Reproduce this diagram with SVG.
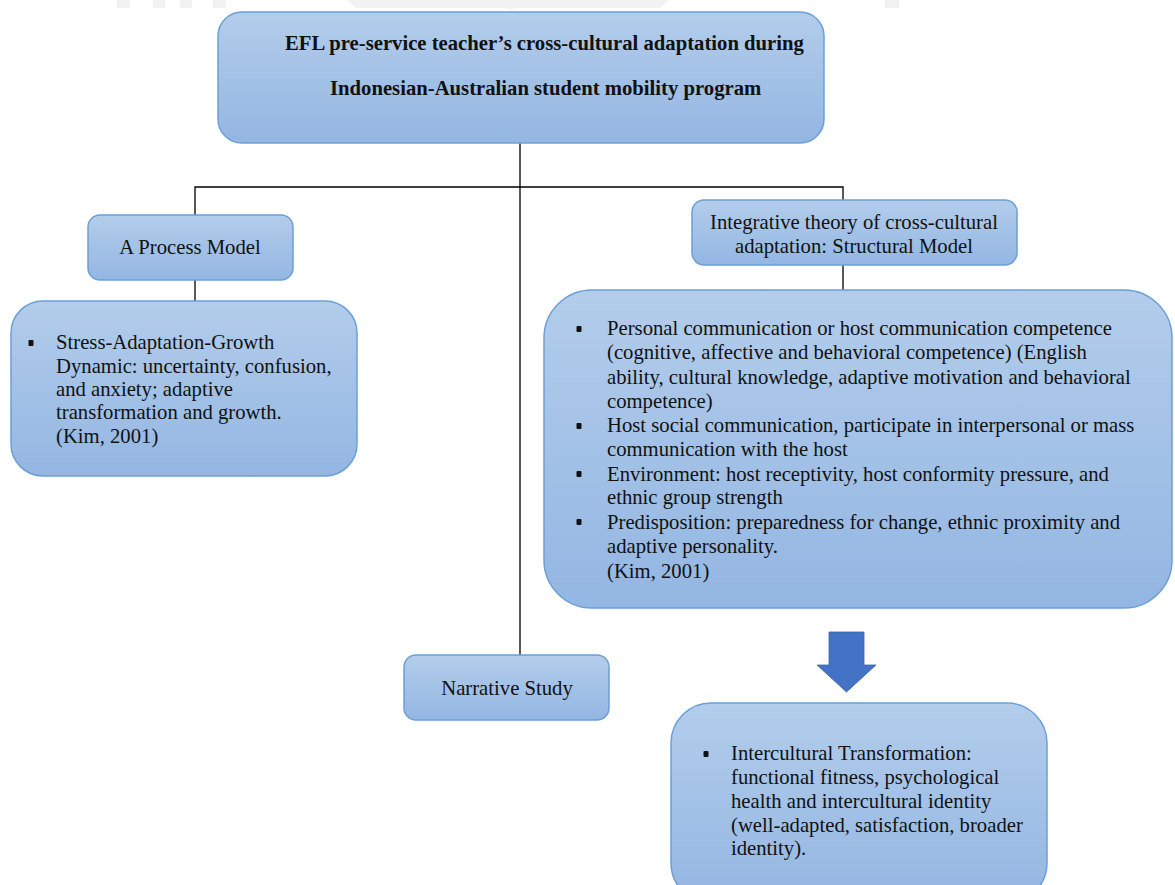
<svg xmlns="http://www.w3.org/2000/svg" width="1175" height="885" viewBox="0 0 1175 885">
  <defs>
    <linearGradient id="boxFill" x1="0" y1="0" x2="0" y2="1">
      <stop offset="0" stop-color="#b3cdeb"/>
      <stop offset="1" stop-color="#93b6e2"/>
    </linearGradient>
    <style>
      .box { fill: url(#boxFill); stroke: #6c9fd7; stroke-width: 1.5; }
      .conn { fill: none; stroke: #000; stroke-width: 1.3; }
      .t { font-family: "Liberation Serif", "Times New Roman", serif; font-size: 20.7px; fill: #111; }
      .title { font-weight: bold; font-size: 20.7px; }
      .mid { text-anchor: middle; }
      .wm { fill: #f2f2f2; }
      .dot { fill: #111; }
    </style>
  </defs>
  <rect width="1175" height="885" fill="#fff"/>

  <!-- faint page mark along the top edge -->
  <g id="page-mark">
    <rect class="wm" x="117" y="0" width="13" height="8"/>
    <rect class="wm" x="153" y="0" width="12" height="8"/>
    <rect class="wm" x="180" y="0" width="12" height="8"/>
    <rect class="wm" x="213" y="0" width="13" height="8"/>
    <polygon class="wm" points="347,0 669,0 660,8 518,8 510,9 502,8 356,8"/>
    <rect class="wm" x="885" y="0" width="14" height="8"/>
  </g>

  <!-- tree connectors -->
  <g id="connectors">
    <line class="conn" x1="520" y1="143" x2="520" y2="656"/>
    <polyline class="conn" points="195,216 195,187 843,187 843,201"/>
    <line class="conn" x1="195" y1="280" x2="195" y2="301"/>
    <line class="conn" x1="843" y1="265" x2="843" y2="290"/>
    <path id="down-arrow" d="M829,632 H864 V665 H876 L846.5,692 L817,665 H829 Z" fill="#4472c4" stroke="#3b65b0" stroke-width="0.8"/>
  </g>

  <g id="root">
    <rect class="box" x="218" y="12" width="606" height="131" rx="24"/>
    <text class="t title" x="285" y="50">EFL pre-service teacher’s cross-cultural adaptation during</text>
    <text class="t title" x="330" y="95">Indonesian-Australian student mobility program</text>
  </g>

  <g id="process-model">
    <rect class="box" x="88" y="215" width="205" height="65" rx="12"/>
    <text class="t mid" x="190" y="254">A Process Model</text>
  </g>

  <g id="stress-growth">
    <rect class="box" x="11" y="301" width="346" height="175" rx="32"/>
    <rect class="dot" x="28.5" y="340" width="5" height="6" rx="1"/>
    <text class="t" x="56" y="349">Stress-Adaptation-Growth</text>
    <text class="t" x="56" y="373">Dynamic: uncertainty, confusion,</text>
    <text class="t" x="56" y="396">and anxiety; adaptive</text>
    <text class="t" x="56" y="419">transformation and growth.</text>
    <text class="t" x="56" y="443">(Kim, 2001)</text>
  </g>

  <g id="structural-model">
    <rect class="box" x="692" y="200" width="325" height="65" rx="12"/>
    <text class="t mid" x="854" y="229">Integrative theory of cross-cultural</text>
    <text class="t mid" x="854" y="253">adaptation: Structural Model</text>
  </g>

  <g id="structural-factors">
    <rect class="box" x="544" y="290" width="628" height="318" rx="48"/>
    <rect class="dot" x="576.5" y="326" width="5" height="6" rx="1"/>
    <rect class="dot" x="576.5" y="423" width="5" height="6" rx="1"/>
    <rect class="dot" x="576.5" y="471" width="5" height="6" rx="1"/>
    <rect class="dot" x="576.5" y="519" width="5" height="6" rx="1"/>
    <text class="t" x="607" y="335">Personal communication or host communication competence</text>
    <text class="t" x="607" y="359">(cognitive, affective and behavioral competence) (English</text>
    <text class="t" x="607" y="384">ability, cultural knowledge, adaptive motivation and behavioral</text>
    <text class="t" x="607" y="408">competence)</text>
    <text class="t" x="607" y="432">Host social communication, participate in interpersonal or mass</text>
    <text class="t" x="607" y="456">communication with the host</text>
    <text class="t" x="607" y="481">Environment: host receptivity, host conformity pressure, and</text>
    <text class="t" x="607" y="504">ethnic group strength</text>
    <text class="t" x="607" y="529">Predisposition: preparedness for change, ethnic proximity and</text>
    <text class="t" x="607" y="553">adaptive personality.</text>
    <text class="t" x="607" y="578">(Kim, 2001)</text>
  </g>

  <g id="narrative-study">
    <rect class="box" x="404" y="655" width="205" height="65" rx="12"/>
    <text class="t mid" x="507" y="695">Narrative Study</text>
  </g>

  <g id="intercultural-transformation">
    <rect class="box" x="671" y="703" width="376" height="200" rx="40"/>
    <rect class="dot" x="703.5" y="751" width="5" height="6" rx="1"/>
    <text class="t" x="731" y="760">Intercultural Transformation:</text>
    <text class="t" x="731" y="784">functional fitness, psychological</text>
    <text class="t" x="731" y="808">health and intercultural identity</text>
    <text class="t" x="731" y="832">(well-adapted, satisfaction, broader</text>
    <text class="t" x="731" y="855">identity).</text>
  </g>
</svg>
